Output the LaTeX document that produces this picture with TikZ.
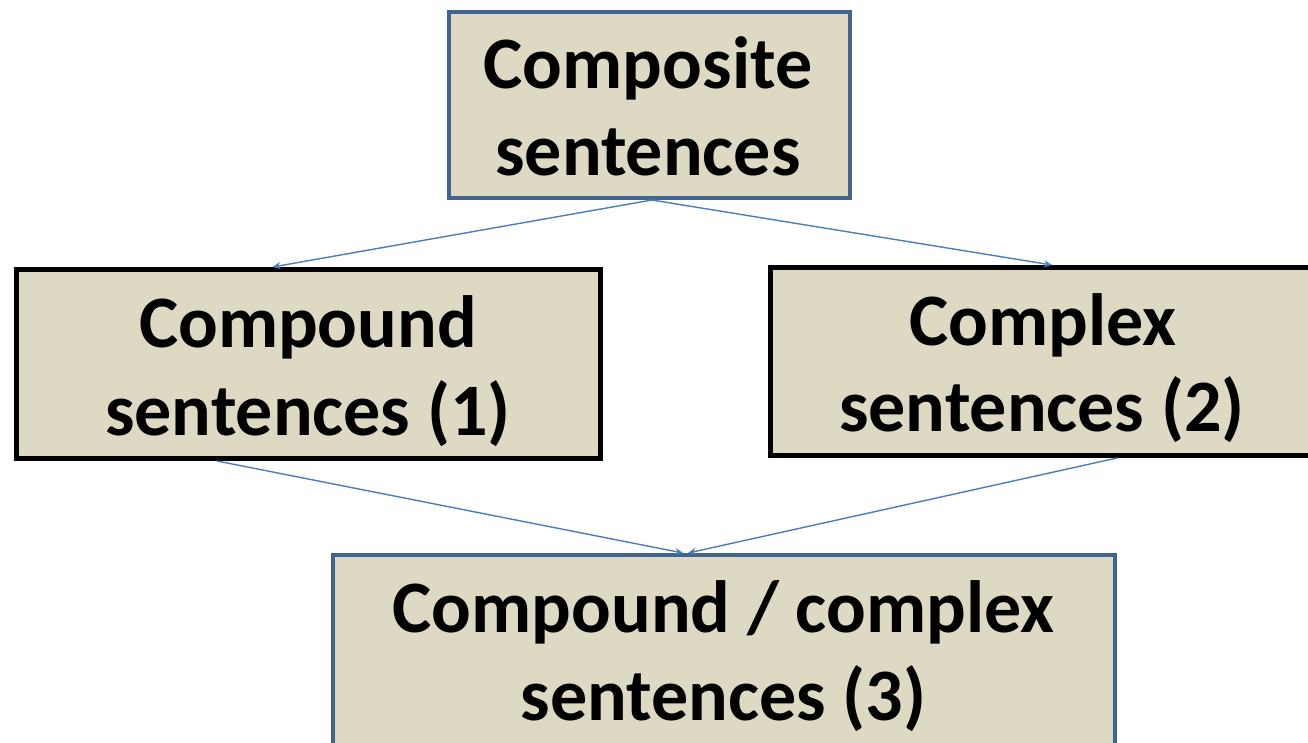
\documentclass[tikz,border=0pt]{standalone}
\usepackage{fontspec}
\setmainfont{Carlito}
\usetikzlibrary{arrows.meta}
\definecolor{tan}{RGB}{221,217,195}
\definecolor{boxblue}{RGB}{65,100,145}
\definecolor{arrblue}{RGB}{74,126,187}
\tikzset{
  bluebox/.style={draw=boxblue, line width=4pt, fill=tan, inner sep=0pt},
  blackbox/.style={draw=black, line width=5pt, fill=tan, inner sep=0pt},
  lbl/.style={anchor=base, inner sep=0pt, font=\fontsize{74}{87}\bfseries\selectfont},
  conn/.style={draw=arrblue, line width=1.4pt, -{Stealth[length=8pt,width=7pt]}}
}
\begin{document}
\begin{tikzpicture}[x=1pt,y=-1pt]
\useasboundingbox (0,0) rectangle (1308,742);
\clip (0,0) rectangle (1308,742);
\node[bluebox, minimum width=401pt, minimum height=186pt] (top) at (649.5,105) {};
\node[blackbox, minimum width=584pt, minimum height=189pt] (left) at (308.5,364) {};
\node[blackbox, minimum width=543pt, minimum height=188pt] (right) at (1042,361.5) {};
\node[bluebox, minimum width=782pt, minimum height=250pt] (bottom) at (724,680) {};

\node[lbl] (t1) at (648,88) {Composite};
\node[lbl] (t2) at (648,175) {sentences};
\node[lbl] (l1) at (308,347) {Compound};
\node[lbl] (l2) at (308,435) {sentences (1)};
\node[lbl] (r1) at (1043,345) {Complex};
\node[lbl] (r2) at (1042,431) {sentences (2)};
\node[lbl] (b1) at (723.5,632) {Compound / complex};
\node[lbl] (b2) at (723.5,720) {sentences (3)};

\draw[conn] ([xshift=2.5pt]top.south) -- ([xshift=-36pt]left.north);
\draw[conn] ([xshift=2.5pt]top.south) -- ([xshift=10pt]right.north);
\draw[conn] ([xshift=-91.5pt]left.south) -- ([xshift=-41pt]bottom.north);
\draw[conn] ([xshift=75pt]right.south) -- ([xshift=-36pt]bottom.north);
\end{tikzpicture}
\end{document}
